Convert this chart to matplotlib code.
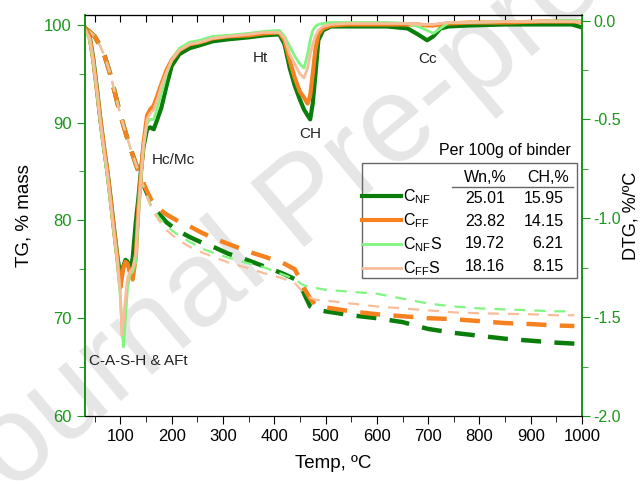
import matplotlib.pyplot as plt
from matplotlib.lines import Line2D
from matplotlib.patches import Rectangle
from matplotlib.ticker import MultipleLocator

plt.rcParams['font.family'] = ['Liberation Sans', 'DejaVu Sans']
plt.rcParams['mathtext.fontset'] = 'custom'
plt.rcParams['mathtext.rm'] = 'Liberation Sans'
plt.rcParams['mathtext.it'] = 'Liberation Sans:italic'
plt.rcParams['axes.unicode_minus'] = False

# mixes
names = [r'C$_{\mathrm{NF}}$', r'C$_{\mathrm{FF}}$', r'C$_{\mathrm{NF}}$S', r'C$_{\mathrm{FF}}$S']
colors = ['#0a7d0a', '#f5821f', '#80f580', '#f8bd9a']
wn = [25.01, 23.82, 19.72, 18.16]
ch = [15.95, 14.15, 6.21, 8.15]

# TG curves (% mass)
tg_t = [32, 40, 50, 60, 70, 80, 90, 100, 110, 120, 130, 140, 150, 160, 175, 190, 210, 235, 260, 285,
        310, 350, 380, 415, 440, 450, 460, 470, 480, 500, 550, 600, 650, 700, 750, 800, 850, 900, 950, 985]
tg_nf = [99.6, 99.3, 98.8, 97.9, 96.7, 95.0, 92.9, 90.8, 89.0, 87.3, 85.8, 84.3, 83.0, 81.8, 80.7, 79.8, 79.0, 78.3, 77.7, 77.2,
         76.6, 75.9, 75.3, 74.6, 74.0, 73.5, 72.3, 71.2, 70.9, 70.7, 70.3, 70.0, 69.6, 68.9, 68.5, 68.2, 67.9, 67.7, 67.5, 67.4]
tg_ff = [99.6, 99.3, 98.8, 97.9, 96.7, 95.0, 92.9, 90.8, 89.0, 87.3, 85.8, 84.4, 83.2, 82.1, 81.2, 80.6, 80.0, 79.4, 78.7, 78.1,
         77.6, 76.8, 76.3, 75.7, 75.0, 74.0, 72.9, 72.0, 71.4, 71.1, 70.7, 70.4, 70.2, 70.0, 69.9, 69.7, 69.5, 69.4, 69.25, 69.2]
tg_nfs = [99.6, 99.3, 98.8, 97.9, 96.7, 95.0, 92.9, 90.8, 89.0, 87.3, 85.8, 84.2, 82.8, 81.5, 80.3, 79.4, 78.6, 77.8, 77.1, 76.6,
          76.2, 75.6, 75.2, 74.5, 74.0, 73.6, 73.3, 73.3, 73.1, 72.9, 72.7, 72.5, 72.0, 71.5, 71.2, 71.0, 70.9, 70.8, 70.7, 70.7]
tg_ffs = [99.6, 99.3, 98.8, 97.9, 96.7, 95.0, 92.9, 90.8, 89.0, 87.3, 85.8, 84.2, 82.7, 81.3, 80.0, 79.0, 78.1, 77.3, 76.7, 76.2,
          75.7, 75.1, 74.6, 74.1, 73.6, 73.0, 72.5, 72.1, 71.9, 71.8, 71.5, 71.2, 71.0, 70.8, 70.6, 70.5, 70.45, 70.4, 70.3, 70.3]

# DTG curves (%/oC)
dtg_t = [32, 40, 47, 55, 61, 68, 75, 82, 88, 94, 100, 103, 106, 110, 114, 119, 124, 130, 135, 140, 145, 152, 158, 165,
         172, 180, 190, 200, 215, 235, 255, 280, 310, 350, 380, 410, 420, 430, 440, 450, 458, 465, 470, 475, 480, 486,
         495, 510, 540, 580, 620, 660, 680, 698, 710, 724, 740, 780, 850, 920, 980, 1000]
dtg_nf = [-0.04, -0.08, -0.19, -0.36, -0.5, -0.64, -0.77, -0.92, -1.06, -1.19, -1.29, -1.27, -1.24, -1.21, -1.22, -1.27,
          -1.2, -1.02, -0.9, -0.76, -0.64, -0.55, -0.54, -0.55, -0.5, -0.44, -0.33, -0.23, -0.17, -0.14, -0.125, -0.105,
          -0.095, -0.085, -0.075, -0.07, -0.12, -0.24, -0.33, -0.4, -0.45, -0.48, -0.5, -0.42, -0.28, -0.1,
          -0.05, -0.03, -0.03, -0.03, -0.03, -0.04, -0.07, -0.1, -0.08, -0.04, -0.03, -0.025, -0.02, -0.02, -0.02, -0.035]
dtg_ff = [-0.04, -0.08, -0.2, -0.37, -0.5, -0.64, -0.77, -0.93, -1.07, -1.2, -1.35, -1.3, -1.25, -1.22, -1.23, -1.28,
          -1.31, -1.2, -0.95, -0.78, -0.62, -0.48, -0.45, -0.43, -0.38, -0.32, -0.25, -0.2, -0.15, -0.12, -0.11, -0.09,
          -0.08, -0.075, -0.065, -0.06, -0.1, -0.2, -0.29, -0.36, -0.39, -0.42, -0.38, -0.27, -0.15, -0.07,
          -0.04, -0.025, -0.02, -0.02, -0.02, -0.02, -0.02, -0.025, -0.025, -0.02, -0.015, -0.01, -0.01, -0.005, -0.005, -0.005]
dtg_nfs = [-0.05, -0.1, -0.21, -0.38, -0.52, -0.66, -0.8, -0.95, -1.09, -1.22, -1.4, -1.55, -1.65, -1.5, -1.35, -1.28,
           -1.27, -1.22, -1.0, -0.8, -0.64, -0.52, -0.5, -0.5, -0.44, -0.37, -0.27, -0.2, -0.14, -0.11, -0.1, -0.08,
           -0.075, -0.065, -0.055, -0.05, -0.08, -0.13, -0.18, -0.22, -0.24, -0.17, -0.1, -0.05, -0.03, -0.02,
           -0.015, -0.01, -0.01, -0.01, -0.01, -0.015, -0.03, -0.05, -0.065, -0.04, -0.01, -0.01, -0.005, -0.005, 0.0, 0.0]
dtg_ffs = [-0.05, -0.09, -0.2, -0.37, -0.51, -0.65, -0.78, -0.94, -1.08, -1.21, -1.38, -1.59, -1.52, -1.4, -1.3, -1.27,
           -1.25, -1.18, -0.97, -0.79, -0.63, -0.5, -0.47, -0.45, -0.4, -0.33, -0.26, -0.2, -0.15, -0.12, -0.11, -0.09,
           -0.08, -0.07, -0.06, -0.06, -0.09, -0.17, -0.22, -0.27, -0.29, -0.24, -0.17, -0.12, -0.08, -0.05,
           -0.03, -0.02, -0.015, -0.015, -0.015, -0.015, -0.02, -0.02, -0.02, -0.015, -0.01, -0.01, -0.005, -0.005, -0.005, -0.005]

# peak labels
peaks = ['Hc/Mc', 'Ht', 'CH', 'Cc', 'C-A-S-H & AFt']
peak_t = [203, 373, 470, 699, 135]
peak_tg = [86.2, 96.6, 88.8, 96.5, 65.6]

green = '#1a961a'

fig = plt.figure(figsize=(6.41, 4.84), dpi=100)

# watermark behind everything
fig.text(0.476, 0.576, 'Journal Pre-proof', rotation=40, fontsize=88, color='#e6e6e6',
         ha='center', va='center', zorder=-1)

ax = fig.add_axes([0.1326, 0.1405, 0.7754, 0.8285])
ax.patch.set_visible(False)
ax2 = ax.twinx()

tgs = [tg_nf, tg_ff, tg_nfs, tg_ffs]
dtgs = [dtg_nf, dtg_ff, dtg_nfs, dtg_ffs]
widths = [3.2, 3.2, 1.6, 1.6]
dashes = [(4.5, 3.0), (4.5, 3.0), (5, 4), (5, 4)]
for y, c, w, d in zip(tgs, colors, widths, dashes):
    ax.plot(tg_t, y, color=c, lw=w, dashes=d)

handles = []
dwid = [3.0, 3.0, 2.0, 2.0]
for y, c, w in zip(dtgs, colors, dwid):
    h, = ax2.plot(dtg_t, y, color=c, lw=w, solid_joinstyle='round')
    handles.append(h)

for s, t, v in zip(peaks, peak_t, peak_tg):
    ax.text(t, v, s, ha='center', va='center', fontsize=11, color='#222222')

ax.set_xlim(31, 1000)
ax.set_ylim(60, 101)
ax2.set_ylim(-2.0, 0.028)

ax.xaxis.set_major_locator(MultipleLocator(100))
ax.xaxis.set_minor_locator(MultipleLocator(50))
ax.yaxis.set_major_locator(MultipleLocator(10))
ax.yaxis.set_minor_locator(MultipleLocator(5))
ax2.yaxis.set_major_locator(MultipleLocator(0.5))
ax2.yaxis.set_minor_locator(MultipleLocator(0.25))
ax2.yaxis.set_major_formatter(plt.FormatStrFormatter('%.1f'))

ax.tick_params(axis='x', which='major', direction='out', length=6, labelsize=12)
ax.tick_params(axis='x', which='minor', direction='out', length=4)
ax.tick_params(axis='y', which='major', length=6, labelsize=12, colors=green)
ax.tick_params(axis='y', which='minor', length=4, colors=green)
ax2.tick_params(axis='y', which='major', length=6, labelsize=11.5, colors=green, pad=2)
ax2.tick_params(axis='y', which='minor', length=4, colors=green)

top = ax.secondary_xaxis('top')
top.xaxis.set_major_locator(MultipleLocator(50))
top.tick_params(axis='x', direction='in', length=5, labeltop=False)

for a in (ax, ax2):
    a.spines['left'].set_color(green)
    a.spines['right'].set_color(green)
    a.spines['left'].set_linewidth(1.3)
    a.spines['right'].set_linewidth(1.3)
ax.set_xlabel('Temp, \u00baC', fontsize=13.5, labelpad=8)
ax.set_ylabel('TG, % mass', fontsize=13.5, labelpad=8)
ax2.set_ylabel('DTG, %/\u00baC', fontsize=13, labelpad=1)

# table-style legend
leg = ax2.legend(handles, names, loc='upper left', bbox_to_anchor=(0.558, 0.57), frameon=False,
                 fontsize=11.5, handlelength=2.4, handletextpad=0.15, labelspacing=0.33,
                 borderpad=0, borderaxespad=0)
ax2.add_patch(Rectangle((0.557, 0.344), 0.433, 0.287, transform=ax2.transAxes,
                        fill=False, edgecolor='#666666', lw=1.0))
ax2.add_artist(Line2D([0.738, 0.982], [0.571, 0.571], transform=ax2.transAxes, color='#666666', lw=1.0))
ax2.text(0.845, 0.663, 'Per 100g of binder', transform=ax2.transAxes, ha='center', va='center', fontsize=11.5)
ax2.text(0.848, 0.594, 'Wn,%', transform=ax2.transAxes, ha='right', va='center', fontsize=11.5)
ax2.text(0.974, 0.594, 'CH,%', transform=ax2.transAxes, ha='right', va='center', fontsize=11.5)
row_y = [0.5436, 0.486, 0.429, 0.3716]
for w, c, yy in zip(wn, ch, row_y):
    ax2.text(0.845, yy, f'{w:.2f}', transform=ax2.transAxes, ha='right', va='center', fontsize=11.5)
    ax2.text(0.963, yy, f'{c:.2f}', transform=ax2.transAxes, ha='right', va='center', fontsize=11.5)

fig.savefig('out.png', dpi=100)
